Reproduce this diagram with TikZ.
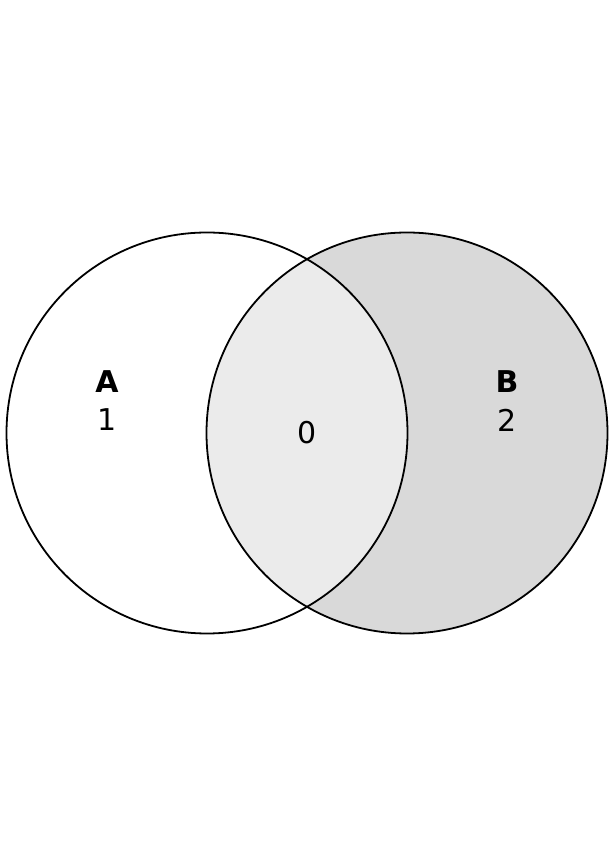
\documentclass[tikz,border=0pt]{standalone}
\usepackage{fontspec}
\setmainfont{DejaVu Sans}
\tikzset{
  setline/.style={line width=1.8pt},
  setlabel/.style={font=\fontsize{30}{32}\selectfont\bfseries},
  countlabel/.style={font=\fontsize{30}{32}\selectfont}
}
\definecolor{onlyB}{HTML}{D9D9D9}
\definecolor{bothAB}{HTML}{EBEBEB}
\begin{document}
\begin{tikzpicture}[x=1pt,y=1pt]
\useasboundingbox (0,0) rectangle (614,865);
\fill[onlyB] (407,432) circle (200.5);
\begin{scope}
\clip (207,432) circle (200.5);
\fill[bothAB] (407,432) circle (200.5);
\end{scope}
\draw[setline] (207,432) circle (200.5);
\draw[setline] (407,432) circle (200.5);
\node[setlabel] (nameA) at (107,483) {A};
\node[countlabel] (countA) at (107,445) {1};
\node[setlabel] (nameB) at (507,483) {B};
\node[countlabel] (countB) at (507,445) {2};
\node[countlabel] (countAB) at (307,432) {0};
\end{tikzpicture}
\end{document}
